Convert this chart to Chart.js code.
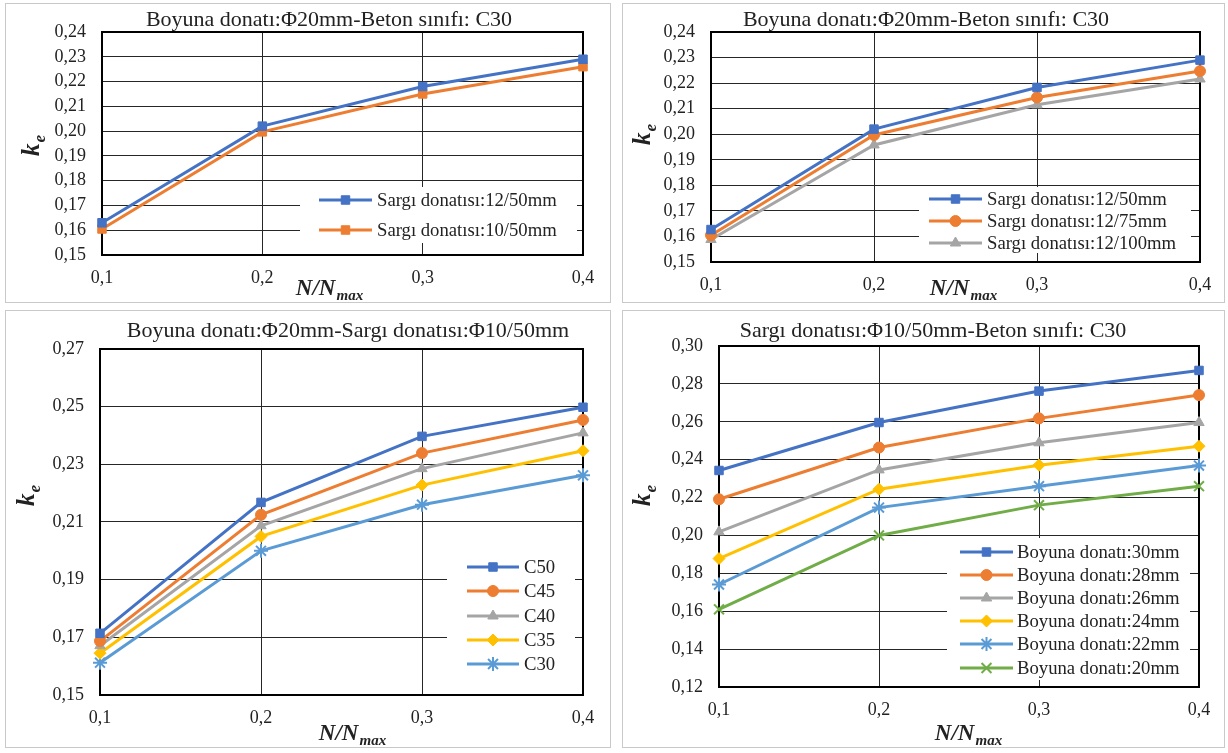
<!DOCTYPE html>
<html>
<head>
<meta charset="utf-8">
<script src="https://cdn.jsdelivr.net/npm/chart.js@4.4.0/dist/chart.umd.min.js"></script>
<style>
    body { margin: 0; width: 1228px; height: 753px; background: #fff; position: relative; overflow: hidden; }
    .panel { position: absolute; box-sizing: border-box; border: 1px solid #c9c9c9; background: #fff; }
    .panel canvas { position: absolute; left: 0; top: 0; }
</style>
</head>
<body>
<div class="panel" id="p1"><canvas id="c1"></canvas></div>
<div class="panel" id="p2"><canvas id="c2"></canvas></div>
<div class="panel" id="p3"><canvas id="c3"></canvas></div>
<div class="panel" id="p4"><canvas id="c4"></canvas></div>
<script>
// x categories shared by all four panels (N/Nmax)
const X_LABELS = ['0,1', '0,2', '0,3', '0,4'];

// Panel 1: Boyuna donatı Φ20mm, C30
const P1_LABELS = ['Sargı donatısı:12/50mm', 'Sargı donatısı:10/50mm'];
const P1_12_50 = [0.163, 0.202, 0.218, 0.229];
const P1_10_50 = [0.1605, 0.1997, 0.215, 0.226];

// Panel 2: Boyuna donatı Φ20mm, C30, stirrup spacing
const P2_LABELS = ['Sargı donatısı:12/50mm', 'Sargı donatısı:12/75mm', 'Sargı donatısı:12/100mm'];
const P2_12_50 = [0.1627, 0.202, 0.2183, 0.229];
const P2_12_75 = [0.1605, 0.1997, 0.2144, 0.2247];
const P2_12_100 = [0.1588, 0.1958, 0.2115, 0.2216];

// Panel 3: concrete class
const P3_LABELS = ['C50', 'C45', 'C40', 'C35', 'C30'];
const P3_C50 = [0.1714, 0.2168, 0.2397, 0.2498];
const P3_C45 = [0.1687, 0.2125, 0.2339, 0.2454];
const P3_C40 = [0.1671, 0.2087, 0.2285, 0.2409];
const P3_C35 = [0.1645, 0.205, 0.2228, 0.2347];
const P3_C30 = [0.1612, 0.2, 0.216, 0.2262];

// Panel 4: longitudinal bar diameter
const P4_LABELS = ['Boyuna donatı:30mm', 'Boyuna donatı:28mm', 'Boyuna donatı:26mm',
    'Boyuna donatı:24mm', 'Boyuna donatı:22mm', 'Boyuna donatı:20mm'];
const P4_30 = [0.2343, 0.2596, 0.2762, 0.2871];
const P4_28 = [0.2191, 0.2464, 0.2618, 0.2741];
const P4_26 = [0.2019, 0.2346, 0.2489, 0.2596];
const P4_24 = [0.1878, 0.2244, 0.2371, 0.2471];
const P4_22 = [0.1741, 0.2147, 0.226, 0.2369];
const P4_20 = [0.161, 0.2, 0.216, 0.226];

const BLUE = '#4472C4';
const ORANGE = '#ED7D31';
const GRAY = '#A5A5A5';
const YELLOW = '#FFC000';
const LBLUE = '#5B9BD5';
const GREEN = '#70AD47';

const FONT = '"Liberation Serif", "Times New Roman", serif';
const TEXT = '#222';

function series(label, data, color, style) {
    const thin = style === 'star' || style === 'crossRot';
    return {
        label,
        data,
        borderColor: color,
        backgroundColor: color,
        borderWidth: 3,
        tension: 0,
        pointStyle: style,
        pointRadius: thin ? 7 : (style === 'circle' ? 5.5 : 6),
        pointBorderWidth: thin ? 2 : 1,
        pointBackgroundColor: color,
        pointBorderColor: color,
    };
}

/** Draw "main" with a subscript "sub", centred on cx, with its baseline at base. */
function drawSubText(ctx, main, sub, cx, base, size) {
    const subSize = Math.round(size * 0.66);
    ctx.font = `bold italic ${size}px ${FONT}`;
    const w1 = ctx.measureText(main).width;
    ctx.font = `bold italic ${subSize}px ${FONT}`;
    const w2 = ctx.measureText(sub).width;
    const x = cx - (w1 + w2) / 2;
    ctx.textAlign = 'left';
    ctx.textBaseline = 'alphabetic';
    ctx.font = `bold italic ${size}px ${FONT}`;
    ctx.fillText(main, x, base);
    ctx.font = `bold italic ${subSize}px ${FONT}`;
    ctx.fillText(sub, x + w1 + 1, base + size * 0.22);
}

// Plot frame, title, axis titles and the in-plot legend (page coordinates in opts).
const panelDecor = {
    id: 'panelDecor',
    beforeDatasetsDraw(chart) {
        const { ctx, chartArea: a } = chart;
        ctx.save();
        ctx.strokeStyle = '#000';
        ctx.lineWidth = 2;
        ctx.strokeRect(a.left, a.top, a.right - a.left, a.bottom - a.top);
        ctx.restore();
    },
    afterDatasetsDraw(chart, args, opts) {
        const { ctx } = chart;
        const ox = opts.ox, oy = opts.oy;
        ctx.save();

        // title
        ctx.fillStyle = TEXT;
        ctx.font = `22px ${FONT}`;
        ctx.textAlign = 'center';
        ctx.textBaseline = 'alphabetic';
        ctx.fillText(opts.title, opts.titleX - ox, opts.titleY - oy);

        // x axis title N/Nmax
        drawSubText(ctx, 'N/N', 'max', opts.xTitle[0] - ox, opts.xTitle[1] - oy, 23);

        // y axis title ke (rotated)
        ctx.save();
        ctx.translate(opts.yTitle[0] - ox, opts.yTitle[1] - oy);
        ctx.rotate(-Math.PI / 2);
        drawSubText(ctx, 'k', 'e', 0, 0, 25);
        ctx.restore();

        // legend
        const lg = opts.legend;
        ctx.fillStyle = '#fff';
        ctx.fillRect(lg.x - ox, lg.y - oy, lg.w, lg.h);
        chart.data.datasets.forEach((ds, i) => {
            const y = lg.rows[i] - oy;
            ctx.strokeStyle = ds.borderColor;
            ctx.lineWidth = 3;
            ctx.beginPath();
            ctx.moveTo(lg.line[0] - ox, y);
            ctx.lineTo(lg.line[1] - ox, y);
            ctx.stroke();
            ctx.fillStyle = ds.pointBackgroundColor;
            ctx.strokeStyle = ds.pointBorderColor;
            ctx.lineWidth = ds.pointBorderWidth;
            Chart.helpers.drawPoint(ctx, {
                pointStyle: ds.pointStyle,
                radius: ds.pointRadius,
                borderWidth: ds.pointBorderWidth,
                rotation: 0,
            }, (lg.line[0] + lg.line[1]) / 2 - ox, y);
            ctx.fillStyle = TEXT;
            ctx.font = `18.7px ${FONT}`;
            ctx.textAlign = 'left';
            ctx.textBaseline = 'middle';
            ctx.fillText(ds.label, lg.textX - ox, y + 1);
        });
        ctx.restore();
    },
};

function makePanel(id, canvasId, box, plot, yMin, yMax, yStep, datasets, decor) {
    const el = document.getElementById(id);
    el.style.left = box.x + 'px';
    el.style.top = box.y + 'px';
    el.style.width = box.w + 'px';
    el.style.height = box.h + 'px';

    const ox = box.x + 1, oy = box.y + 1;
    const cw = box.w - 2, ch = box.h - 2;
    const canvas = document.getElementById(canvasId);
    canvas.width = cw;
    canvas.height = ch;

    const grid = { color: '#262626', lineWidth: 1, drawTicks: false };
    const tickFont = { family: FONT, size: 18 };
    const yAxisWidth = plot.l - ox;
    const xAxisHeight = oy + ch - plot.b;

    new Chart(canvas, {
        type: 'line',
        data: { labels: X_LABELS, datasets },
        options: {
            responsive: false,
            animation: false,
            devicePixelRatio: 1,
            layout: {
                padding: { left: 0, top: plot.t - oy, right: ox + cw - plot.r, bottom: 0 },
            },
            plugins: {
                legend: { display: false },
                tooltip: { enabled: false },
                panelDecor: Object.assign({ ox, oy }, decor),
            },
            scales: {
                x: {
                    offset: false,
                    grid,
                    border: { display: false },
                    ticks: { font: tickFont, color: TEXT, padding: 12, maxRotation: 0, autoSkip: false },
                    afterFit: (s) => { s.height = xAxisHeight; },
                },
                y: {
                    min: yMin,
                    max: yMax,
                    grid,
                    border: { display: false },
                    ticks: {
                        stepSize: yStep,
                        font: tickFont,
                        color: TEXT,
                        padding: 16,
                        callback: (v) => v.toFixed(2).replace('.', ','),
                    },
                    afterFit: (s) => { s.width = yAxisWidth; },
                },
            },
        },
        plugins: [panelDecor],
    });
}

makePanel('p1', 'c1',
    { x: 5, y: 3, w: 606, h: 300 },
    { l: 102, t: 32, r: 583, b: 255 },
    0.15, 0.24, 0.01,
    [
        series(P1_LABELS[0], P1_12_50, BLUE, 'rect'),
        series(P1_LABELS[1], P1_10_50, ORANGE, 'rect'),
    ],
    {
        title: 'Boyuna donatı:Φ20mm-Beton sınıfı: C30', titleX: 329, titleY: 26,
        xTitle: [329, 295], yTitle: [39, 146],
        legend: { x: 300, y: 187, w: 277, h: 56, rows: [200, 230], line: [319, 372], textX: 377 },
    });

makePanel('p2', 'c2',
    { x: 622, y: 3, w: 603, h: 300 },
    { l: 711, t: 32, r: 1200, b: 262 },
    0.15, 0.24, 0.01,
    [
        series(P2_LABELS[0], P2_12_50, BLUE, 'rect'),
        series(P2_LABELS[1], P2_12_75, ORANGE, 'circle'),
        series(P2_LABELS[2], P2_12_100, GRAY, 'triangle'),
    ],
    {
        title: 'Boyuna donatı:Φ20mm-Beton sınıfı: C30', titleX: 926, titleY: 26,
        xTitle: [963, 295], yTitle: [650, 135],
        legend: { x: 919, y: 187, w: 272, h: 66, rows: [199, 221, 243], line: [929, 982], textX: 987 },
    });

makePanel('p3', 'c3',
    { x: 5, y: 310, w: 606, h: 438 },
    { l: 100, t: 349, r: 583, b: 695 },
    0.15, 0.27, 0.02,
    [
        series(P3_LABELS[0], P3_C50, BLUE, 'rect'),
        series(P3_LABELS[1], P3_C45, ORANGE, 'circle'),
        series(P3_LABELS[2], P3_C40, GRAY, 'triangle'),
        series(P3_LABELS[3], P3_C35, YELLOW, 'rectRot'),
        series(P3_LABELS[4], P3_C30, LBLUE, 'star'),
    ],
    {
        title: 'Boyuna donatı:Φ20mm-Sargı donatısı:Φ10/50mm', titleX: 348, titleY: 337,
        xTitle: [352, 740], yTitle: [34, 496],
        legend: { x: 447, y: 557, w: 128, h: 120, rows: [567, 591, 616, 640, 664], line: [467, 519], textX: 524 },
    });

makePanel('p4', 'c4',
    { x: 622, y: 310, w: 603, h: 438 },
    { l: 719, t: 346, r: 1199, b: 687 },
    0.12, 0.30, 0.02,
    [
        series(P4_LABELS[0], P4_30, BLUE, 'rect'),
        series(P4_LABELS[1], P4_28, ORANGE, 'circle'),
        series(P4_LABELS[2], P4_26, GRAY, 'triangle'),
        series(P4_LABELS[3], P4_24, YELLOW, 'rectRot'),
        series(P4_LABELS[4], P4_22, LBLUE, 'star'),
        series(P4_LABELS[5], P4_20, GREEN, 'crossRot'),
    ],
    {
        title: 'Sargı donatısı:Φ10/50mm-Beton sınıfı: C30', titleX: 933, titleY: 337,
        xTitle: [968, 740], yTitle: [650, 496],
        legend: { x: 947, y: 538, w: 243, h: 142, rows: [552, 575, 598, 621, 644, 668], line: [960, 1013], textX: 1017 },
    });
</script>
</body>
</html>
